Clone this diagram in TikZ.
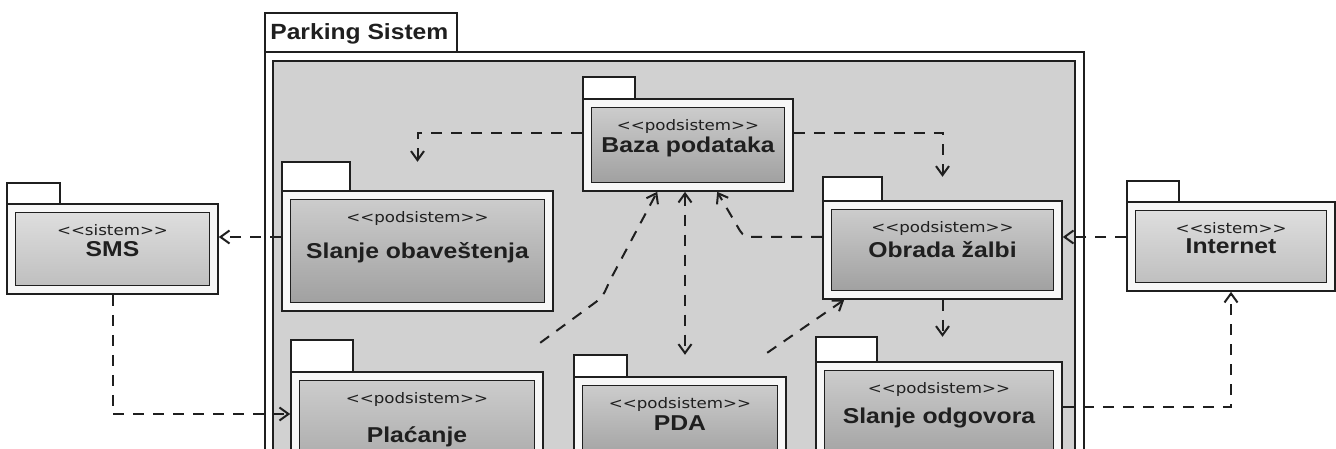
\documentclass[tikz,border=0pt]{standalone}
\usepackage{fontspec}
\setmainfont{Liberation Sans}
\newfontfamily\stereofont{DejaVu Sans}
\usetikzlibrary{arrows.meta,fit}
\definecolor{bgarea}{gray}{0.82}
\definecolor{band}{gray}{0.97}
\definecolor{intop}{gray}{0.80}
\definecolor{inbot}{gray}{0.63}
\definecolor{extop}{gray}{0.87}
\definecolor{exbot}{gray}{0.75}
\definecolor{ink}{gray}{0.12}
\newcommand\sx[1]{\scalebox{1.15}[1]{#1}}
\newcommand\umlpkg[9]{%
  \node[pkgtab, fit={(#2,#3) (#4,#5)}] (#1-tab) {};
  \node[pkgbody, fit={(#2,#5) (#6,#7)}] (#1) {};
  \node[pkginner, fit={({#2+8.5},{#5+8.5}) ({#6-8.5},{#7-8.5})}] (#1-in) {};
  \node[fit={(#2,#3) (#6,#7)}, inner sep=0pt] (#1-bb) {};
  \node[stereotxt, anchor=base] at ([yshift=-24pt]#1-in.north) {\sx{<{}<#8>{}>}};
  \node[titletxt, anchor=base] at ([yshift=-7.5pt]#1-in.center) {\sx{#9}};
}
\tikzset{
  pkgtab/.style={draw=ink, line width=1.4pt, fill=white, inner sep=0pt},
  pkgbody/.style={draw=ink, line width=1.6pt, fill=band, inner sep=0pt},
  pkginner/.style={draw=ink, line width=1.9pt, top color=intop, bottom color=inbot, inner sep=0pt},
  extinner/.style={pkginner/.append style={top color=extop, bottom color=exbot}},
  stereotxt/.style={font=\stereofont\fontsize{14.5}{14.5}\selectfont, inner sep=0pt, text=ink},
  titletxt/.style={font=\fontsize{21.5}{21.5}\selectfont\bfseries, inner sep=0pt, text=ink},
  frameouter/.style={draw=ink, line width=2pt, fill=white, inner sep=0pt},
  frameinner/.style={draw=ink, line width=1.6pt, fill=bgarea, inner sep=0pt},
  frametab/.style={draw=ink, line width=1.7pt, fill=white, inner sep=0pt},
  depline/.style={draw=ink, line width=2pt, dash pattern=on 11pt off 9pt, ->},
  >={Straight Barb[length=9pt,width=13pt]}
}
\begin{document}
\begin{tikzpicture}[x=1pt,y=-1pt]
\useasboundingbox (0,0) rectangle (1336,449);
\clip (0,0) rectangle (1336,449);
\fill[white] (0,0) rectangle (1336,449);

% Parking Sistem frame
\node[frametab, fit={(265,13) (457,52)}] (pstab) {};
\node[frameouter, fit={(265,52) (1084,470)}] (ps) {};
\node[frameinner, fit={(273,61) (1075,470)}] (psin) {};
\node[anchor=base west, inner sep=0pt, text=ink, font=\fontsize{22}{22}\selectfont\bfseries]
  at ([xshift=6pt,yshift=13pt]pstab.south west) {\scalebox{1.12}[1]{Parking Sistem}};

% external systems
\begin{scope}[extinner]
\umlpkg{sms}{7}{183}{60}{204}{218}{294}{sistem}{SMS}
\umlpkg{internet}{1127}{181}{1179}{202}{1335}{291}{sistem}{Internet}
\end{scope}

% subsystems
\umlpkg{baza}{583}{77}{635}{99}{793}{191}{podsistem}{Baza podataka}
\umlpkg{slob}{282}{162}{350}{191}{553}{311}{podsistem}{Slanje obaveštenja}
\umlpkg{obrada}{823}{177}{882}{201}{1062}{299}{podsistem}{Obrada žalbi}
\umlpkg{plac}{291}{340}{353}{372}{543}{497}{podsistem}{Plaćanje}
\umlpkg{pda}{574}{355}{627}{377}{786}{469}{podsistem}{PDA}
\umlpkg{slodg}{816}{337}{877}{362}{1062}{470}{podsistem}{Slanje odgovora}

% dependencies
\draw[depline] ([yshift=12pt]baza.west) -| (slob-bb.north);
\draw[depline] ([yshift=12pt]baza.east) -| (obrada-bb.north);
\draw[depline] ([yshift=14pt]slob.west) -- ([yshift=14pt]slob.west -| sms.east);
\draw[depline] ([yshift=9.5pt]internet.west) -- ([yshift=9.5pt]internet.west -| obrada.east);
\draw[depline] (sms.south) |- ([yshift=20.5pt]plac.west);
\draw[depline] ([yshift=9pt]slodg.east) -| (internet.south);
\draw[depline] (obrada.south) -- (obrada.south |- slodg-bb.north);
\draw[depline, <->] ([xshift=-3pt]baza.south) -- ([xshift=-3pt]baza.south |- pda-bb.north);
\draw[depline] ([yshift=13pt]obrada.west) -- ++(-71,0)
  .. controls +(-8,0) and +(4,7) .. ++(-14,-11) -- ([xshift=135pt]baza.south west);
\draw[depline] ([xshift=-3pt,yshift=-3pt]plac-bb.north east) -- ++(56,-41)
  .. controls +(8,-6) and +(-3,7) .. ++(13,-20) -- ([xshift=75pt]baza.south west);
\draw[depline] ([xshift=-19pt,yshift=2pt]pda-bb.north east) -- ([xshift=22pt]obrada.south west);
\end{tikzpicture}
\end{document}
